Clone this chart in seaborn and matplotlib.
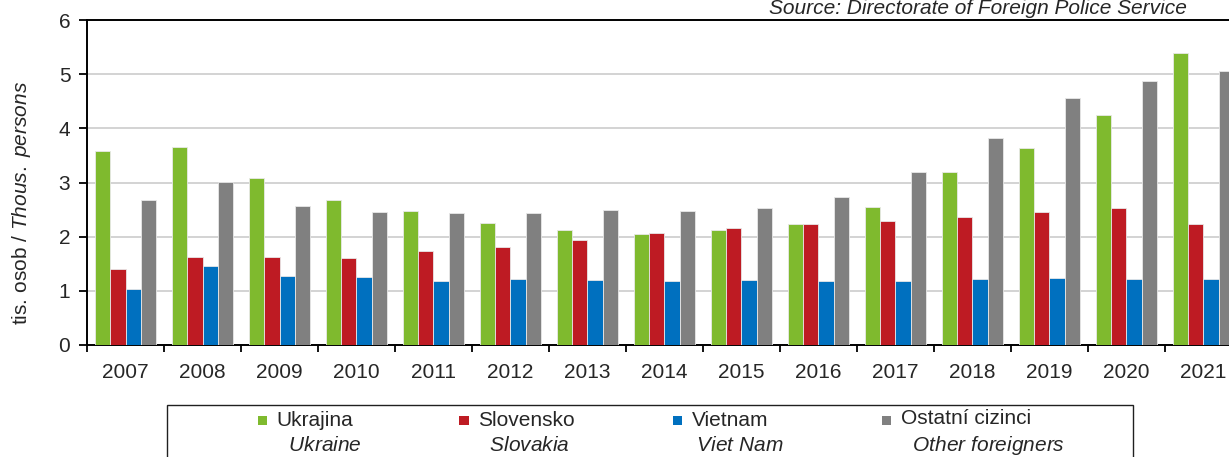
import matplotlib
matplotlib.use('Agg')
import matplotlib.pyplot as plt
import matplotlib.patches as mpatches
from matplotlib.legend_handler import HandlerPatch
import seaborn as sns
import pandas as pd

# values (thousands of persons)
years = [str(y) for y in range(2007, 2022)]
ukrajina = [3.59, 3.66, 3.08, 2.68, 2.48, 2.26, 2.12, 2.05, 2.12, 2.24, 2.55, 3.20, 3.64, 4.25, 5.40]
slovensko = [1.40, 1.62, 1.62, 1.61, 1.73, 1.81, 1.93, 2.07, 2.16, 2.23, 2.29, 2.37, 2.46, 2.53, 2.23]
vietnam = [1.04, 1.455, 1.28, 1.25, 1.18, 1.21, 1.20, 1.18, 1.20, 1.19, 1.18, 1.22, 1.23, 1.21, 1.22]
ostatni = [2.67, 3.01, 2.57, 2.46, 2.44, 2.44, 2.50, 2.47, 2.53, 2.73, 3.19, 3.83, 4.56, 4.88, 5.06]

series_cz = ['Ukrajina', 'Slovensko', 'Vietnam', 'Ostatní cizinci']
series_en = ['Ukraine', 'Slovakia', 'Viet Nam', 'Other foreigners']
colors = ['#7fba2e', '#be1b23', '#0070bf', '#808080']

df = pd.DataFrame({
    'year': years * 4,
    'series': sum([[s] * len(years) for s in series_cz], []),
    'value': ukrajina + slovensko + vietnam + ostatni,
})

sns.set_style('white')
plt.rcParams['font.family'] = ['Liberation Sans', 'DejaVu Sans']
plt.rcParams['mathtext.fontset'] = 'custom'
plt.rcParams['mathtext.rm'] = 'Liberation Sans'
plt.rcParams['mathtext.it'] = 'Liberation Sans:italic'

FS = 15

fig = plt.figure(figsize=(12.29, 4.57), dpi=100)
ax = fig.add_axes([87 / 1229, 1 - 345 / 457, (1242 - 87) / 1229, 325 / 457])

sns.barplot(data=df, x='year', y='value', hue='series', palette=colors,
            width=0.8, edgecolor='#e8e8e8', linewidth=0.6, legend=False,
            saturation=1, ax=ax, zorder=3)

ax.set_ylim(0, 6)
ax.set_xlim(-0.5, len(years) - 0.5)
ax.set_yticks(range(0, 7))
ax.yaxis.grid(True, color='#d0d0d0', linewidth=1.3, zorder=0)
ax.xaxis.grid(False)

# boundaries carry the tick marks, centers carry the labels
ax.set_xticks([i - 0.5 for i in range(len(years) + 1)])
ax.set_xticklabels([])
ax.set_xticks(range(len(years)), minor=True)
ax.set_xticklabels(years, minor=True)
ax.tick_params(axis='x', which='major', direction='out', length=5, width=1.3, color='black', bottom=True)
ax.tick_params(axis='x', which='minor', length=0, labelsize=FS, pad=13)
ax.tick_params(axis='y', direction='out', length=6, width=1.3, color='black', left=True, labelsize=FS, pad=6)

for side in ['left', 'bottom', 'top']:
    ax.spines[side].set_color('black')
    ax.spines[side].set_linewidth(1.4)
ax.spines['right'].set_visible(False)

ax.set_xlabel('')
ax.set_ylabel(r'tis. osob / $\it{Thous.\ persons}$', fontsize=FS)
ax.yaxis.set_label_coords(-0.047, 0.437)

fig.text(1187 / 1229, 1 - 8 / 457, 'Source: Directorate of Foreign Police Service',
         ha='right', va='center', fontsize=FS, style='italic')


# legend square sits next to the first (Czech) line
def top_square(legend, orig_handle, xdescent, ydescent, width, height, fontsize):
    return mpatches.Rectangle((-xdescent, 0.74 * fontsize), width, width)


indents = ['  ', '  ', ' ', '  ']
handles = [mpatches.Patch(facecolor=c, edgecolor='none') for c in colors]
labels = [cz + '\n' + ind + r'$\it{' + en.replace(' ', r'\ ') + '}$'
          for cz, en, ind in zip(series_cz, series_en, indents)]
leg = fig.legend(handles, labels, ncol=4, loc='upper left',
                 bbox_to_anchor=(258 / 1229, 1 - 409 / 457),
                 borderaxespad=0, frameon=False, fontsize=FS,
                 handlelength=0.45, handleheight=0.45, handletextpad=0.45,
                 borderpad=0, columnspacing=4.7,
                 handler_map={mpatches.Patch: HandlerPatch(patch_func=top_square)})
for t in leg.get_texts():
    t.set_linespacing(1.38)

fig.add_artist(mpatches.Rectangle((167 / 1229, -0.1), (1133 - 167) / 1229, 0.1 + 1 - 405 / 457,
                                  transform=fig.transFigure, fill=False,
                                  edgecolor='#202020', linewidth=1.0))

fig.savefig('out.png', dpi=100)
